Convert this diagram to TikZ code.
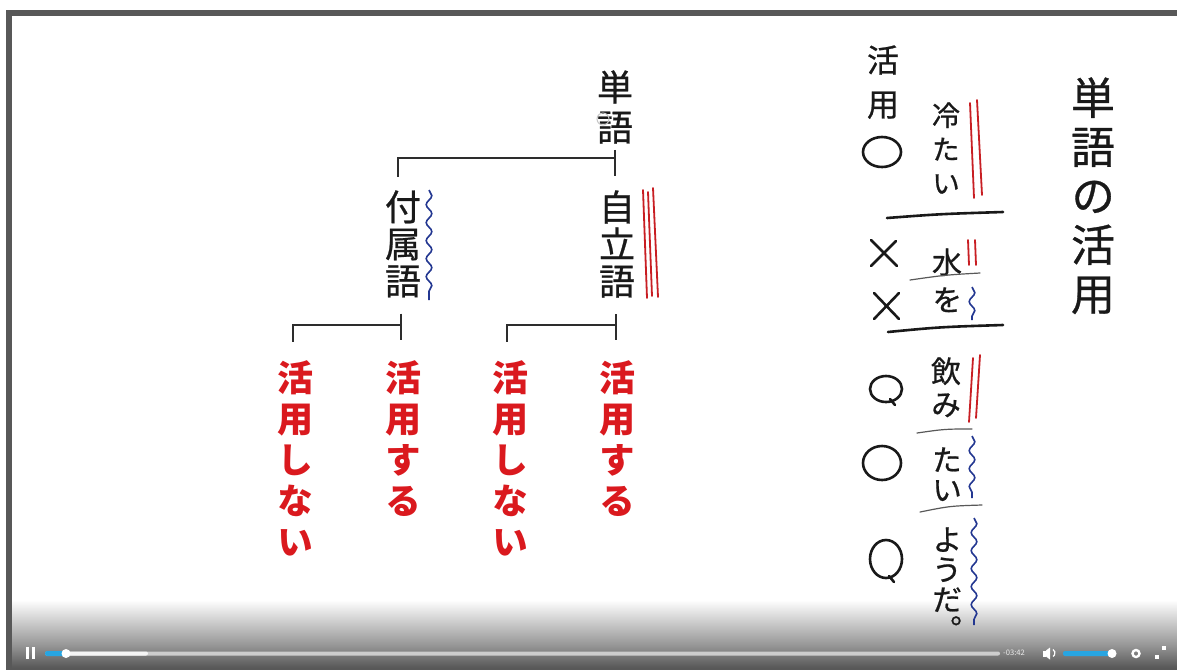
\documentclass[tikz,border=0pt]{standalone}
\usepackage{fontspec}
\setmainfont{Noto Sans CJK JP}[RawFeature=+vert]
\newfontfamily\tx{Noto Sans CJK JP}[RawFeature=+vert, FakeBold=0.7]
\newfontfamily\plainfont{Noto Sans CJK JP}
\usetikzlibrary{decorations.pathmorphing,calc}
\definecolor{inkc}{RGB}{25,25,25}
\definecolor{redc}{RGB}{218,25,30}
\definecolor{redln}{RGB}{200,30,35}
\definecolor{bluec}{RGB}{35,55,145}
\definecolor{framec}{RGB}{88,88,88}
\definecolor{trackc}{RGB}{205,205,205}
\definecolor{playblue}{RGB}{40,165,225}
\definecolor{connc}{RGB}{45,45,45}
\begin{document}
\begin{tikzpicture}[x=0.5pt,y=-0.5pt,
  vt/.style={anchor=north, inner sep=0pt, align=center, text=inkc},
  treetxt/.style={vt, font=\tx\fontsize{18}{18.5}\selectfont},
  redtxt/.style={vt, text=redc, font=\fontsize{18}{20.5}\selectfont\bfseries},
  smalltxt/.style={vt, font=\tx\fontsize{15}{16}\selectfont},
  conn/.style={draw=connc, line width=1.3pt},
  thickln/.style={draw=inkc, line width=1.3pt, line cap=round},
  thinln/.style={draw=black!65, line width=0.6pt, line cap=round},
  redmark/.style={draw=redln, line width=0.9pt, line cap=round},
  bluewave/.style={draw=bluec, line width=0.8pt, decorate,
     decoration={snake, segment length=9pt, amplitude=1.4pt}},
]
% background / bounding box
\fill[white] (0,0) rectangle (1177,670);
\useasboundingbox (0,0) rectangle (1177,670);

% ---------- player bar (overlay shading) ----------
\shade[top color=white, bottom color=black!42] (12,600) rectangle (1177,646);
\shade[top color=black!42, bottom color=black!66] (12,646) rectangle (1177,668);
\fill[framec] (12,668) rectangle (1177,670);

% video frame
\fill[framec] (6,10) rectangle (1177,16);
\fill[framec] (6,10) rectangle (12,670);

% ---------- tree ----------
\node[treetxt, font=\tx\fontsize{18}{20}\selectfont] (tango) at (615,70) {単\\語};
\draw[gray!45, line width=0.5pt] (603,119) circle (6);
\node[treetxt] (fuzoku) at (403,190) {付\\属\\語};
\node[treetxt] (jiritsu) at (617,190) {自\\立\\語};

\node[redtxt] (ls1) at (295,360) {活\\用\\し\\な\\い};
\node[redtxt] (ls2) at (403,360) {活\\用\\す\\る};
\node[redtxt] (rs1) at (510,360) {活\\用\\し\\な\\い};
\node[redtxt] (rs2) at (617,360) {活\\用\\す\\る};

\coordinate (j0) at (615,158);
\draw[conn] ([yshift=-3pt]tango.south) -- ([yshift=7pt]tango.south |- jiritsu.north);
\draw[conn] (j0) -| ([xshift=-2.5pt,yshift=6.5pt]fuzoku.north);

\coordinate (k1) at (401,325);
\draw[conn] ([xshift=-1pt,yshift=-8pt]fuzoku.south) -- ([xshift=-1pt,yshift=10pt]ls2.north);
\draw[conn] (k1) -| ([xshift=-1pt,yshift=9pt]ls1.north);
\coordinate (k2) at (616,325);
\draw[conn] ([xshift=-0.5pt,yshift=-8pt]jiritsu.south) -- ([xshift=-0.5pt,yshift=10pt]rs2.north);
\draw[conn] (k2) -| ([xshift=-1.5pt,yshift=9pt]rs1.north);

\draw[bluewave] (429,190) -- (429,300);
\draw[redmark] (643,190) -- (647,298);
\draw[redmark] (648,192) -- (652,296);
\draw[redmark] (653,188) -- (658,297);

% ---------- right panel ----------
\node[vt, font=\tx\fontsize{22}{24.5}\selectfont] (title) at (1093,77) {単\\語\\の\\活\\用};
\node[vt, font=\tx\fontsize{16}{22}\selectfont] (kh) at (883,45) {活\\用};

\node[vt, font=\tx\fontsize{14}{17}\selectfont] (tsumetai) at (946,102) {冷\\た\\い};
\node[smalltxt] (mizu) at (947,248) {水};
\node[smalltxt] (wo) at (947,287) {を};
\node[vt, font=\tx\fontsize{15}{16.5}\selectfont] (nomi) at (946,357) {飲\\み};
\node[vt, font=\tx\fontsize{15}{15}\selectfont] (tai) at (947,447) {た\\い};
\node[vt, font=\tx\fontsize{15}{15}\selectfont] (youda) at (947,527) {よ\\う\\だ\\。};

% separators
\draw[thickln] (887,218) .. controls (940,214) .. (1003,212);
\draw[thickln] (888,332) .. controls (940,327) .. (1003,325);
\draw[thinln] (910,280) .. controls (945,275) .. (980,273);
\draw[thinln] (917,433) .. controls (945,429) .. (972,429);
\draw[thinln] (920,512) .. controls (950,506) .. (982,505);

% marks
\draw[redmark] (970,103) -- (974,198);
\draw[redmark] (977,100) -- (982,195);
\draw[redmark] (968,240) -- (969,265);
\draw[redmark] (975,240) -- (976,265);
\draw[redmark] (973,358) -- (969,422);
\draw[redmark] (980,355) -- (976,418);
\draw[bluewave] (972,287) -- (972,320);
\draw[bluewave] (972,436) -- (972,498);
\draw[bluewave] (974,518) -- (974,625);

% circles and crosses
\draw[thickln] (882,152) ellipse [x radius=19, y radius=15];
\draw[thickln] (886,389) ellipse [x radius=16, y radius=13];
\draw[thickln] (890,399) -- (895,405);
\draw[thickln] (882,463) ellipse [x radius=19, y radius=17];
\draw[thickln] (886,559) ellipse [x radius=16, y radius=19];
\draw[thickln] (889,576) -- (894,582);
\draw[thickln] (871,240) -- (897,266);
\draw[thickln] (871,266) -- (896,241);
\draw[thickln] (874,293) -- (899,319);
\draw[thickln] (874,319) -- (899,293);

% ---------- player controls ----------
\fill[white] (26,647) rectangle (29,659);
\fill[white] (32,647) rectangle (35,659);
\fill[trackc, rounded corners=1pt] (45,651.5) rectangle (1000,655.5);
\fill[white!92!gray, rounded corners=1pt] (45,651.5) rectangle (148,655.5);
\fill[playblue, rounded corners=1pt] (45,651) rectangle (66,656);
\fill[white] (66,653.5) circle (4.5);
\node[font=\plainfont\fontsize{3.8}{4}\selectfont, text=white!85!gray, inner sep=0pt] (time) at (1014,653) {-03:42};
\fill[white] (1043,650.5) rectangle (1046,656.5);
\fill[white] (1046,650.5) -- (1050,647.5) -- (1050,659.5) -- (1046,656.5) -- cycle;
\draw[white, line width=0.6pt] (1053,649.5) arc [start angle=-60, end angle=60, radius=4] ;
\fill[playblue, rounded corners=1pt] (1063,651) rectangle (1110,656);
\fill[white] (1112,653.5) circle (4.5);
\draw[white, line width=1.2pt] (1136,653.5) circle (3.5);
\fill[white] (1155,655) rectangle (1159,659);
\fill[white] (1162,646) rectangle (1166,650);
\end{tikzpicture}
\end{document}
